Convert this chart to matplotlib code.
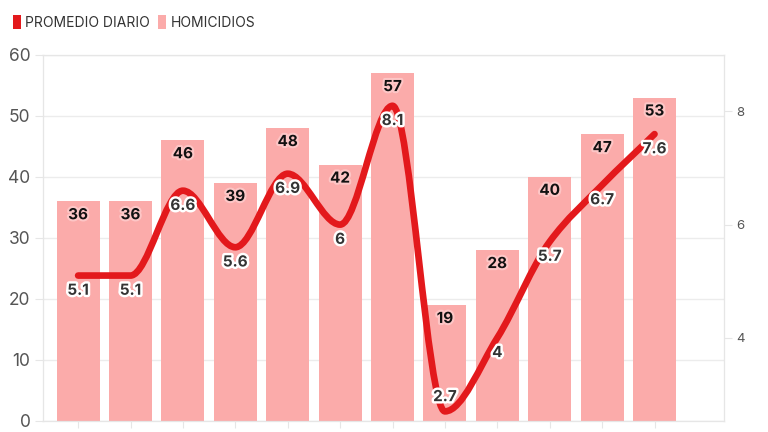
import numpy as np
import matplotlib.pyplot as plt
import matplotlib.patheffects as pe
from matplotlib.path import Path
from matplotlib.patches import PathPatch, Patch

plt.rcParams['font.family'] = ['Inter', 'DejaVu Sans']

# Datos
semanas = ['1-7 sep', '8-14 sep', '15-21 sep', '22-28 sep', '29-5 oct', '6-12 oct',
           '13-19 oct', '20-26 oct', '27-2 nov', '3-9 nov', '10-16 nov', '17-23 nov']
homicidios = [36, 36, 46, 39, 48, 42, 57, 19, 28, 40, 47, 53]
promedio = [5.1, 5.1, 6.6, 5.6, 6.9, 6, 8.1, 2.7, 4, 5.7, 6.7, 7.6]

ROJO = '#e3191c'
ROSA = '#fbabaa'

fig = plt.figure(figsize=(7.68, 4.32), dpi=100)
ax = fig.add_axes([0.056, 0.0255, 0.887, 0.8475])
ax2 = ax.twinx()

x = np.arange(len(homicidios))
ax.bar(x, homicidios, width=0.82, color=ROSA, zorder=2)
ax.set_xlim(-0.67, 12.33)
ax.set_ylim(0, 60)
ax.set_yticks(range(0, 61, 10))
ax.grid(axis='y', color='#ececec', linewidth=1, zorder=0)
ax.set_axisbelow(True)
ax.set_xticks(x)
ax.set_xticklabels(semanas, fontsize=8, color='#555555')
ax.tick_params(axis='x', length=5, color='#e6e6e6', pad=4)
ax.tick_params(axis='y', length=6, color='#e6e6e6', labelsize=12.5, labelcolor='#555555', pad=3)
for s in ax.spines.values():
    s.set_color('#e6e6e6')
for s in ax2.spines.values():
    s.set_color('#e6e6e6')

for xi, v in zip(x, homicidios):
    ax.text(xi, v - 2.2, str(v), ha='center', va='center', fontsize=11, fontweight='bold',
            color='#111111', zorder=3,
            path_effects=[pe.withStroke(linewidth=3, foreground='#fdc6c6')])

# Curva suavizada (monótona) del promedio diario
ax2.set_ylim(2.53, 9.0)
ax2.set_yticks([4, 6, 8])
ax2.tick_params(axis='y', length=6, color='#e6e6e6', labelsize=9.5, labelcolor='#555555', pad=3)

y = np.array(promedio, dtype=float)
d = np.diff(y)
m = np.zeros_like(y)
m[0], m[-1] = d[0], d[-1]
for i in range(1, len(y) - 1):
    if d[i - 1] * d[i] > 0:
        m[i] = 2 / (1 / d[i - 1] + 1 / d[i])
verts = [(x[0], y[0])]
codes = [Path.MOVETO]
for i in range(len(y) - 1):
    verts += [(x[i] + 1 / 3, y[i] + m[i] / 3), (x[i + 1] - 1 / 3, y[i + 1] - m[i + 1] / 3), (x[i + 1], y[i + 1])]
    codes += [Path.CURVE4] * 3
ax2.add_patch(PathPatch(Path(verts, codes), fill=False, edgecolor=ROJO, linewidth=4.8,
                        capstyle='round', joinstyle='round', zorder=4))

for xi, v in zip(x, promedio):
    off = 0.26 if v < 3 else -0.26
    ax2.text(xi, v + off, f'{v:g}', ha='center', va='center', fontsize=11, fontweight='bold',
             color='#333333', zorder=5,
             path_effects=[pe.withStroke(linewidth=3.5, foreground='white')])

handles = [Patch(facecolor=ROJO, edgecolor='none', label='PROMEDIO DIARIO'),
           Patch(facecolor=ROSA, edgecolor='none', label='HOMICIDIOS')]
fig.legend(handles=handles, loc='center left', bbox_to_anchor=(0.0, 0.948), ncol=2, frameon=False,
           fontsize=10, handlelength=0.6, handleheight=1.1, handletextpad=0.3, columnspacing=0.6,
           labelcolor='#333333')

fig.savefig('out.png', dpi=100)
